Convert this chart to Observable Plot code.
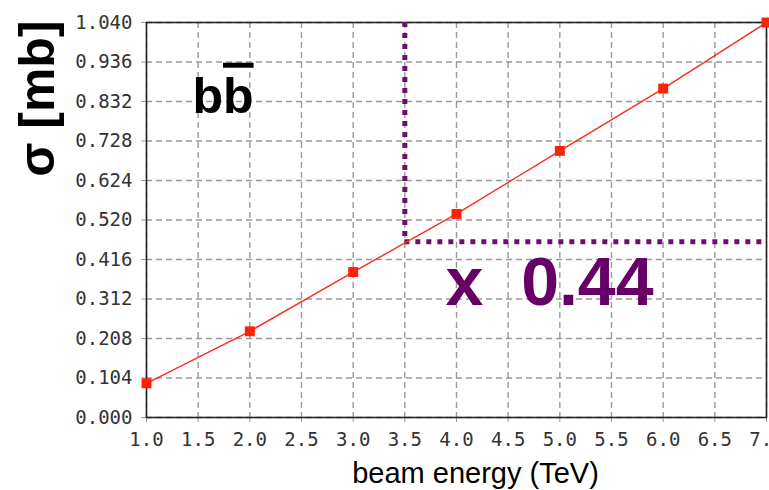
<!DOCTYPE html>
<html>
<head>
<meta charset="utf-8">
<script src="https://cdn.jsdelivr.net/npm/d3@7"></script>
<script src="https://cdn.jsdelivr.net/npm/@observablehq/plot@0.6"></script>
<style>
  html, body { margin: 0; padding: 0; background: #fff; overflow: hidden; }
  #chart { width: 769px; height: 490px; overflow: hidden; }
  #chart svg { max-width: none !important; width: 790px; height: 490px; display: block; }
</style>
</head>
<body>
<div id="chart"></div>
<script>
// ---- data ----
const energies = [1, 2, 3, 4, 5, 6, 7];                       // beam energy (TeV)
const sigma = [0.090, 0.227, 0.383, 0.536, 0.702, 0.866, 1.040]; // σ [mb]
const yTicks = [0, 0.104, 0.208, 0.312, 0.416, 0.520, 0.624, 0.728, 0.832, 0.936, 1.040];
const xTicks = [1, 1.5, 2, 2.5, 3, 3.5, 4, 4.5, 5, 5.5, 6, 6.5, 7];
const refEnergy = [3.5];     // TeV
const refSigma = [0.463];    // mb, value at 3.5 TeV
const xLabel = "beam energy (TeV)";
const yLabel = "σ [mb]";
const processLabel = ["bb"];
const processPos = {x: 1.445, y: 0.8025};
const factorLabel = ["x\u00a0\u00a00.44"];
const factorPos = {x: 3.894, y: 0.2957};

const points = energies.map((e, i) => ({e, s: sigma[i]}));
const mono = "DejaVu Sans Mono";
const sans = "Liberation Sans, Arial, sans-serif";
const purple = "#6e0f6e";

const chart = Plot.plot({
  width: 790,
  height: 490,
  marginLeft: 146,
  marginRight: 24,
  marginTop: 22,
  marginBottom: 73,
  style: {background: "white", overflow: "visible", maxWidth: "none"},
  x: {domain: [1, 7]},
  y: {domain: [0, 1.04]},
  marks: [
    Plot.gridY(yTicks, {stroke: "#999", strokeOpacity: 1, strokeWidth: 1.4, strokeDasharray: "6,4"}),
    Plot.gridX(xTicks, {stroke: "#999", strokeOpacity: 1, strokeWidth: 1.4, strokeDasharray: "6,4"}),
    Plot.axisY(yTicks, {
      tickFormat: d3.format(".3f"), tickSize: 5, tickPadding: 9, stroke: "#999",
      fontFamily: mono, fontSize: 19, fill: "#333", label: null
    }),
    Plot.axisX(xTicks, {
      tickFormat: d3.format(".1f"), tickSize: 5, tickPadding: 10, stroke: "#999",
      fontFamily: mono, fontSize: 19, fill: "#333", label: null
    }),
    Plot.frame({stroke: "#222", strokeWidth: 1.6}),
    Plot.ruleX(refEnergy, {y1: 1.04, y2: refSigma[0], stroke: purple, strokeWidth: 5, strokeDasharray: "5,6"}),
    Plot.ruleY(refSigma, {x1: refEnergy[0], x2: 7, stroke: purple, strokeWidth: 5, strokeDasharray: "5,6"}),
    Plot.line(points, {x: "e", y: "s", stroke: "#ff2a1a", strokeWidth: 1.4}),
    Plot.dot(points, {x: "e", y: "s", symbol: "square", r: 5.6, fill: "#ff2200", stroke: "none"}),
    Plot.text(processLabel, {
      x: () => processPos.x, y: () => processPos.y, text: d => d,
      textAnchor: "start", lineAnchor: "bottom", fontFamily: sans, fontWeight: "bold",
      fontSize: 50, fill: "#000", className: "bbar"
    }),
    Plot.text(factorLabel, {
      x: () => factorPos.x, y: () => factorPos.y, text: d => d,
      textAnchor: "start", lineAnchor: "bottom", fontFamily: sans, fontWeight: "bold",
      fontSize: 68, fill: "#660066"
    }),
    Plot.text([yLabel], {
      x: () => 1, y: () => 0.8395, text: d => d, dx: -109, rotate: -90,
      textAnchor: "middle", lineAnchor: "middle", fontFamily: sans, fontWeight: "bold",
      fontSize: 50, fill: "#000"
    }),
    Plot.text([xLabel], {
      frameAnchor: "bottom", text: d => d, dx: 19, dy: 65,
      textAnchor: "middle", lineAnchor: "bottom", fontFamily: sans,
      fontSize: 29, fill: "#000"
    })
  ]
});

// put the bar over the second b
const t = chart.querySelector(".bbar text");
if (t) {
  t.textContent = "b";
  const ts = document.createElementNS("http://www.w3.org/2000/svg", "tspan");
  ts.textContent = "b";
  ts.setAttribute("style", "text-decoration: overline; text-decoration-thickness: 3px;");
  t.appendChild(ts);
}

document.getElementById("chart").appendChild(chart);
</script>
</body>
</html>
